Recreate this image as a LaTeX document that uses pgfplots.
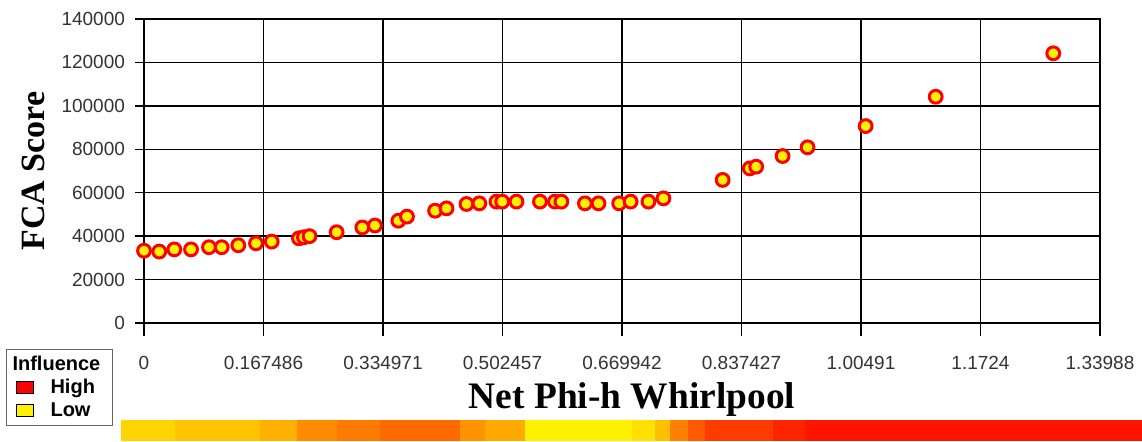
\documentclass[border=0pt]{standalone}
\usepackage{pgfplots}
\pgfplotsset{compat=1.18}
\usepackage{fontspec}
\setmainfont{Liberation Sans}
\newfontfamily\labelfont{Liberation Serif}
\definecolor{cA}{HTML}{FFD400}
\definecolor{cB}{HTML}{FFC400}
\definecolor{cC}{HTML}{FFB000}
\definecolor{cD}{HTML}{FF8C00}
\definecolor{cE}{HTML}{FF7A00}
\definecolor{cF}{HTML}{FF6A00}
\definecolor{cG}{HTML}{FF9400}
\definecolor{cH}{HTML}{FFAA00}
\definecolor{cI}{HTML}{FFF200}
\definecolor{cJ}{HTML}{FFE000}
\definecolor{cK}{HTML}{FFC000}
\definecolor{cL}{HTML}{FF8000}
\definecolor{cM}{HTML}{FF5A00}
\definecolor{cN}{HTML}{FF3C00}
\definecolor{cO}{HTML}{FF2400}
\definecolor{cP}{HTML}{FF1400}
\pgfplotstableread{
x y
0.0000 33300
0.0214 32900
0.0425 33900
0.0659 33900
0.0911 34900
0.1089 34900
0.1322 35800
0.1570 36700
0.1790 37500
0.2172 39000
0.2242 39500
0.2320 40000
0.2700 41800
0.3060 44000
0.3237 44900
0.3565 47100
0.3686 49000
0.4080 51700
0.4240 52800
0.4520 54800
0.4700 55100
0.4940 55900
0.5020 55900
0.5220 55900
0.5550 55900
0.5760 55900
0.5850 55900
0.6180 55100
0.6370 55100
0.6660 55100
0.6820 55900
0.7070 55900
0.7280 57400
0.8110 65900
0.8490 71200
0.8580 72000
0.8950 76900
0.9300 80900
1.0114 90700
1.1096 104200
1.2744 124200
}\datatable
\begin{document}
\begin{tikzpicture}
\path[use as bounding box] (-72pt,-59pt) rectangle (499pt,161.5pt);
\begin{axis}[
  at={(0pt,0pt)}, anchor=south west,
  scale only axis, width=478pt, height=152pt,
  xmin=0, xmax=1.33988, ymin=0, ymax=140000,
  xtick={0,0.167486,0.334971,0.502457,0.669942,0.837427,1.00491,1.1724,1.33988},
  xticklabels={0,0.167486,0.334971,0.502457,0.669942,0.837427,1.00491,1.1724,1.33988},
  ytick={0,20000,40000,60000,80000,100000,120000,140000},
  yticklabels={0,20000,40000,60000,80000,100000,120000,140000},
  scaled ticks=false,
  xtick pos=left, ytick pos=left,
  grid=major, grid style={black, line width=0.75pt},
  axis line style={black, line width=0.75pt},
  tick align=outside, major tick length=4.5pt,
  xtick style={/pgfplots/major tick length=6.5pt},
  tick style={black, line width=0.75pt},
  ticklabel style={font=\fontsize{9.5}{11}\selectfont, text=black!80},
  xticklabel style={yshift=-8.5pt},
  yticklabel style={xshift=-1.5pt},
  xlabel={\labelfont\bfseries Net Phi-h Whirlpool},
  ylabel={\labelfont\bfseries FCA Score},
  xlabel style={font=\fontsize{18.7}{21}\selectfont, at={(axis description cs:0.5105,-0.2500)}, anchor=center},
  ylabel style={font=\fontsize{17}{19}\selectfont, at={(axis description cs:-0.116,0.5)}, anchor=center},
  legend style={at={(axis description cs:-0.1444,-0.0855)}, anchor=north west,
    draw=black!60, line width=0.6pt, font=\bfseries\fontsize{10}{11}\selectfont,
    inner sep=1pt, row sep=-1pt},
  legend cell align=left,
]
\addlegendimage{empty legend}
\addlegendentry{\hspace*{-19pt}Influence\hspace*{3pt}}
\addlegendimage{legend image code/.code={\path[draw=none,fill=none] (0pt,-3pt) rectangle (19pt,3pt);\draw[fill=red,draw=black,line width=0.5pt] (4pt,-3pt) rectangle (12.5pt,3pt);}}
\addlegendentry{High}
\addlegendimage{legend image code/.code={\path[draw=none,fill=none] (0pt,-3pt) rectangle (19pt,3pt);\draw[fill=yellow,draw=black,line width=0.5pt] (4pt,-3pt) rectangle (12.5pt,3pt);}}
\addlegendentry{Low}
\addplot[forget plot, only marks, mark=*, mark size=3.2pt,
  mark options={fill=yellow, draw=red, line width=1.5pt}] table[x=x,y=y] {\datatable};
\end{axis}
\begin{axis}[
  at={(-11.5pt,-59pt)}, anchor=south west,
  scale only axis, width=510.5pt, height=10.5pt,
  hide axis, xmin=121, xmax=1142, ymin=0, ymax=1,
]
\addplot[fill=cA, draw=none] coordinates {(121,1)(175,1)} \closedcycle;
\addplot[fill=cB, draw=none] coordinates {(175,1)(260,1)} \closedcycle;
\addplot[fill=cC, draw=none] coordinates {(260,1)(297,1)} \closedcycle;
\addplot[fill=cD, draw=none] coordinates {(297,1)(337,1)} \closedcycle;
\addplot[fill=cE, draw=none] coordinates {(337,1)(380,1)} \closedcycle;
\addplot[fill=cF, draw=none] coordinates {(380,1)(460,1)} \closedcycle;
\addplot[fill=cG, draw=none] coordinates {(460,1)(485,1)} \closedcycle;
\addplot[fill=cH, draw=none] coordinates {(485,1)(525,1)} \closedcycle;
\addplot[fill=cI, draw=none] coordinates {(525,1)(632,1)} \closedcycle;
\addplot[fill=cJ, draw=none] coordinates {(632,1)(655,1)} \closedcycle;
\addplot[fill=cK, draw=none] coordinates {(655,1)(670,1)} \closedcycle;
\addplot[fill=cL, draw=none] coordinates {(670,1)(688,1)} \closedcycle;
\addplot[fill=cM, draw=none] coordinates {(688,1)(705,1)} \closedcycle;
\addplot[fill=cN, draw=none] coordinates {(705,1)(773,1)} \closedcycle;
\addplot[fill=cO, draw=none] coordinates {(773,1)(805,1)} \closedcycle;
\addplot[fill=cP, draw=none] coordinates {(805,1)(1142,1)} \closedcycle;
\end{axis}
\end{tikzpicture}
\end{document}
